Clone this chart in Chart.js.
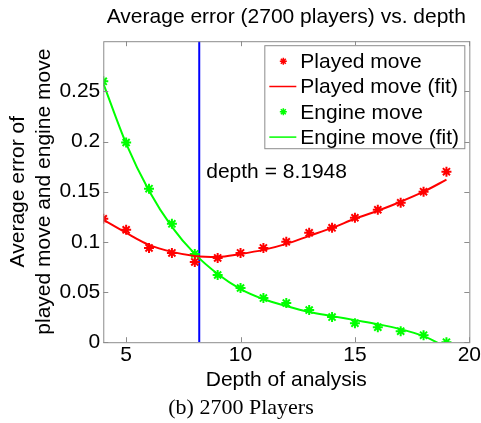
<!DOCTYPE html>
<html>
<head>
<meta charset="utf-8">
<script src="https://cdn.jsdelivr.net/npm/chart.js@4"></script>
<style>
  html, body { margin: 0; padding: 0; background: #fff; }
  #wrap { width: 481px; height: 423px; }
</style>
</head>
<body>
<div id="wrap"><canvas id="err-chart" width="481" height="423"></canvas></div>
<script>
const depths = [4, 5, 6, 7, 8, 9, 10, 11, 12, 13, 14, 15, 16, 17, 18, 19];
const playedMove = [0.123, 0.112, 0.094, 0.089, 0.080, 0.084, 0.089, 0.094, 0.100, 0.109, 0.114, 0.124, 0.132, 0.139, 0.150, 0.170];
const engineMove = [0.260, 0.199, 0.153, 0.118, 0.088, 0.067, 0.054, 0.044, 0.039, 0.032, 0.025, 0.019, 0.015, 0.011, 0.007, 0.000];
const playedFit = [0.122, 0.109, 0.097, 0.090, 0.086, 0.085, 0.088, 0.092, 0.098, 0.106, 0.114, 0.123, 0.131, 0.140, 0.150, 0.162];
const engineFit = [0.258, 0.198, 0.151, 0.115, 0.088, 0.068, 0.053, 0.043, 0.036, 0.030, 0.026, 0.022, 0.018, 0.013, 0.006, -0.005];
const crossDepth = 8.1948;
const xTicks = [5, 10, 15, 20];
const yTicks = [0, 0.05, 0.1, 0.15, 0.2, 0.25];

const FONT = 'Arial, "Liberation Sans", Helvetica, sans-serif';
const FS = 21;
const RED = '#ff0000';
const GREEN = '#00ff00';
const AXIS = '#8c8c8c';

const toPts = vals => vals.map((v, i) => ({ x: depths[i], y: v }));

// box with inside tick marks, like matlab
const boxPlugin = {
  id: 'box',
  afterDatasetsDraw(chart) {
    const { ctx, chartArea: a, scales } = chart;
    ctx.save();
    ctx.strokeStyle = AXIS;
    ctx.lineWidth = 1;
    ctx.strokeRect(a.left + 0.5, a.top + 0.5, a.right - a.left, a.bottom - a.top);
    ctx.beginPath();
    xTicks.forEach(t => {
      const px = Math.round(scales.x.getPixelForValue(t)) + 0.5;
      ctx.moveTo(px, a.bottom); ctx.lineTo(px, a.bottom - 5);
      ctx.moveTo(px, a.top); ctx.lineTo(px, a.top + 5);
    });
    yTicks.forEach(t => {
      const py = Math.round(scales.y.getPixelForValue(t)) + 0.5;
      ctx.moveTo(a.left, py); ctx.lineTo(a.left + 5, py);
      ctx.moveTo(a.right, py); ctx.lineTo(a.right - 5, py);
    });
    ctx.stroke();

    // depth label
    ctx.fillStyle = '#000';
    ctx.font = FS + 'px ' + FONT;
    ctx.textBaseline = 'middle';
    ctx.fillText('depth = ' + crossDepth, scales.x.getPixelForValue(crossDepth) + 7, scales.y.getPixelForValue(0.169));

    // legend
    const lx = a.right - 205, ly = a.top + 4, lw = 200, lh = 103;
    ctx.fillStyle = '#fff';
    ctx.fillRect(lx, ly, lw, lh);
    ctx.strokeStyle = AXIS;
    ctx.strokeRect(lx + 0.5, ly + 0.5, lw, lh);
    const items = chart.data.datasets.slice(0, 4);
    items.forEach((ds, i) => {
      const cy = ly + 16 + i * 25.3;
      ctx.strokeStyle = ds.borderColor;
      ctx.lineWidth = 1.5;
      if (ds.showLine === false) {
        Chart.helpers.drawPoint(ctx, { pointStyle: 'star', radius: 3.5, borderWidth: 1.5, rotation: 0 }, lx + 19, cy);
      } else {
        ctx.beginPath();
        ctx.moveTo(lx + 5, cy); ctx.lineTo(lx + 32, cy);
        ctx.stroke();
      }
      ctx.fillStyle = '#000';
      ctx.fillText(ds.label, lx + 36, cy + 1);
    });
    ctx.restore();
  }
};

const ctx = document.getElementById('err-chart').getContext('2d');

new Chart(ctx, {
  type: 'scatter',
  data: {
    datasets: [
      {
        label: 'Played move',
        data: toPts(playedMove),
        showLine: false,
        borderColor: RED,
        backgroundColor: RED,
        pointStyle: 'star',
        pointRadius: 5,
        pointBorderWidth: 2
      },
      {
        label: 'Played move (fit)',
        data: toPts(playedFit),
        showLine: true,
        borderColor: RED,
        borderWidth: 2,
        pointRadius: 0,
        cubicInterpolationMode: 'monotone'
      },
      {
        label: 'Engine move',
        data: toPts(engineMove),
        showLine: false,
        borderColor: GREEN,
        backgroundColor: GREEN,
        pointStyle: 'star',
        pointRadius: 5,
        pointBorderWidth: 2
      },
      {
        label: 'Engine move (fit)',
        data: toPts(engineFit),
        showLine: true,
        borderColor: GREEN,
        borderWidth: 2,
        pointRadius: 0,
        cubicInterpolationMode: 'monotone'
      },
      {
        label: 'depth',
        data: [{ x: crossDepth, y: 0 }, { x: crossDepth, y: 0.3 }],
        showLine: true,
        borderColor: '#0000ff',
        borderWidth: 2,
        pointRadius: 0
      }
    ]
  },
  options: {
    responsive: false,
    animation: false,
    events: [],
    layout: { padding: { left: 6, right: 5, top: 0, bottom: 2 } },
    plugins: {
      legend: { display: false },
      tooltip: { enabled: false },
      title: {
        display: true,
        fullSize: false,
        text: 'Average error (2700 players) vs. depth',
        color: '#000',
        font: { family: FONT, size: FS, weight: 'normal' },
        padding: { top: 5, bottom: 11 }
      },
      subtitle: {
        display: true,
        position: 'bottom',
        text: '(b) 2700 Players',
        color: '#000',
        font: { family: '"Liberation Serif", "Times New Roman", serif', size: 22, weight: 'normal' },
        padding: { top: 2, bottom: 0 }
      }
    },
    scales: {
      x: {
        type: 'linear',
        min: 4,
        max: 20,
        afterBuildTicks: s => { s.ticks = xTicks.map(v => ({ value: v })); },
        grid: { display: false, drawTicks: false },
        border: { display: false },
        ticks: { color: '#000', font: { family: FONT, size: FS }, padding: 0, maxRotation: 0 },
        title: {
          display: true,
          text: 'Depth of analysis',
          color: '#000',
          font: { family: FONT, size: FS },
          padding: { top: 0, bottom: 0 }
        }
      },
      y: {
        type: 'linear',
        min: 0,
        max: 0.3,
        afterBuildTicks: s => { s.ticks = yTicks.map(v => ({ value: v })); },
        grid: { display: false, drawTicks: false },
        border: { display: false },
        ticks: {
          color: '#000',
          font: { family: FONT, size: FS },
          padding: 3,
          callback: v => String(+v.toFixed(2))
        },
        title: {
          display: true,
          text: ['Average error of', 'played move and engine move'],
          color: '#000',
          font: { family: FONT, size: FS, lineHeight: 1.2 },
          padding: { top: 0, bottom: 0 }
        }
      }
    }
  },
  plugins: [boxPlugin]
});
</script>
</body>
</html>
